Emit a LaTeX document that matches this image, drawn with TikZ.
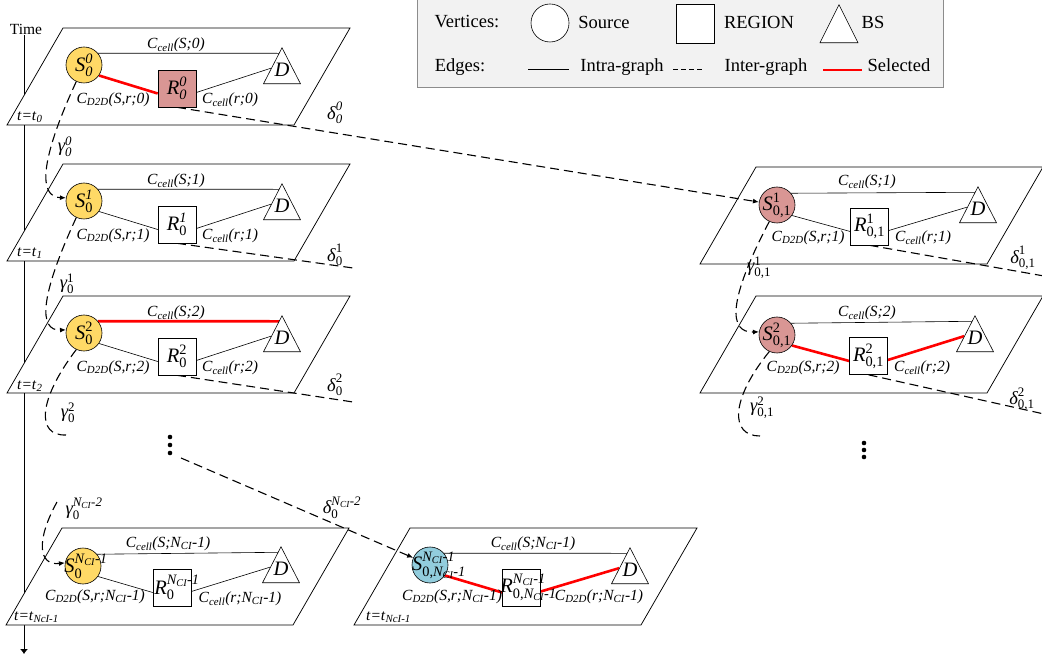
\documentclass[tikz,border=0pt]{standalone}
\usepackage{fontspec}
\setmainfont{Liberation Serif}
\usepackage{amsmath}
\usetikzlibrary{shapes.geometric,arrows.meta,calc}
\pgfdeclarelayer{bg}
\pgfdeclarelayer{edges}
\pgfsetlayers{bg,edges,main}
\definecolor{srcY}{RGB}{255,217,102}
\definecolor{rose}{RGB}{217,150,148}
\definecolor{skyb}{RGB}{146,205,221}
\definecolor{legfill}{RGB}{242,242,242}
\definecolor{legline}{RGB}{140,140,140}
\definecolor{selred}{RGB}{255,0,0}
\newcommand\Cc[1]{\textit{C}\textsubscript{\textit{cell}}\textit{(#1)}}
\newcommand\Cd[1]{\textit{C}\textsubscript{\textit{D2D}}\textit{(#1)}}
\newcommand\NCt{\textit{N}\textsubscript{\textit{CI}}}
\newcommand\NCm{\textit{N}_{\textit{CI}}}
\newcommand\fsz[1]{\fontsize{#1}{#1}\selectfont}
\newcommand\planeat[2]{\draw[plane] (#1,#2) -- ++(287,0) -- ++(-56,97) -- ++(-287,0) -- cycle;}
\tikzset{
 plane/.style={draw=black, fill=white, line width=0.75pt},
 src/.style={circle, draw=black, line width=0.6pt, minimum size=36pt, inner sep=0pt},
 reg/.style={rectangle, draw=black, line width=0.6pt, minimum width=38pt, minimum height=37pt, inner sep=0pt, fill=white},
 bs/.style={isosceles triangle, isosceles triangle stretches, shape border rotate=90, draw=black, line width=0.6pt, minimum width=37pt, minimum height=36pt, inner sep=0pt, anchor=apex, fill=white},
 nlab/.style={font=\fsz{20.5}, inner sep=0pt},
 elab/.style={font=\fsz{15.5}, inner sep=0pt},
 glab/.style={font=\fsz{18.5}, inner sep=0pt},
 leglab/.style={font=\fsz{18.5}, inner sep=0pt},
 edge/.style={line width=0.6pt},
 sel/.style={line width=2.6pt, draw=selred},
 inter/.style={line width=1.1pt, dash pattern=on 9pt off 5pt},
 arr/.style={-{Latex[length=6pt,width=5pt]}},
 timeax/.style={line width=0.8pt, -{Latex[length=5pt,width=8pt]}},
}
\begin{document}
\begin{tikzpicture}[x=1pt,y=-1pt]
\useasboundingbox (0,0) rectangle (1042,660);
% ---------- legend
\draw[draw=legline, fill=legfill, line width=0.8pt] (417,-1) rectangle (943,87);
\node[leglab] (lv) at (467,22) {Vertices:};
\node[src, minimum size=38pt, fill=white] (lc) at (550,23) {};
\node[leglab] (lsrc) at (604,22) {Source};
\node[reg, minimum width=38pt, minimum height=39pt] (lsq) at (695,23.5) {};
\node[leglab] (lreg) at (759,22) {REGION};
\node[bs, minimum width=38pt, minimum height=38pt] (ltr) at (839,4) {};
\node[leglab] (lbs) at (873,22) {BS};
\node[leglab] (le) at (460,67) {Edges:};
\coordinate (la1) at (528,69); \coordinate (la2) at (569,69);
\draw[edge] (la1) -- (la2);
\node[leglab] (lintra) at (622,67) {Intra-graph};
\coordinate (lb1) at (673,69); \coordinate (lb2) at (704,69);
\draw[line width=0.8pt, dash pattern=on 5pt off 3pt] (lb1) -- (lb2);
\node[leglab] (linter) at (766,67) {Inter-graph};
\coordinate (lc1) at (823,70); \coordinate (lc2) at (862,70);
\draw[sel] (lc1) -- (lc2);
\node[leglab] (lsel) at (899,65) {Selected};
% ---------- time axis and planes
\node[elab] (time) at (26,29) {Time};
\coordinate (ax0) at (24,35);
\coordinate (ax1) at (24,654);
\begin{pgfonlayer}{bg}
\draw[timeax] (ax0) -- (ax1);
\planeat{63}{28}
\planeat{63}{164}
\planeat{63}{296}
\planeat{62}{528}
\planeat{410}{528}
\planeat{756}{167}
\planeat{756}{296}
\end{pgfonlayer}
% ---------- plane 0
\node[src, fill=srcY, label={[nlab]center:$\textit{S}^{\textit{0}}_{\textit{0}}$}] (S0) at (84,65) {};
\node[reg, fill=rose, label={[nlab]center:$\textit{R}^{\textit{0}}_{\textit{0}}$}] (R0) at (177,88.5) {};
\node[bs] (D0) at (282,47) {};
\path (D0.apex) ++(0,23) node[nlab] (D0t) {\textit{D}};
\node[elab] (c0a) at (176,45) {\Cc{S;0}};
\node[elab] (c0b) at (113,100) {\Cd{S,r;0}};
\node[elab] (c0c) at (230,100) {\Cc{r;0}};
\node[elab, anchor=west] (t0) at (17,117) {\textit{t=t}\textsubscript{\textit{0}}};
\node[glab] (dl0) at (335,113) {$\textit{δ}^{\textit{0}}_{\textit{0}}$};
% ---------- plane 1
\node[src, fill=srcY, label={[nlab]center:$\textit{S}^{\textit{1}}_{\textup{0}}$}] (S1) at (84,201) {};
\node[reg, label={[nlab]center:$\textit{R}^{\textit{1}}_{\textup{0}}$}] (R1) at (177,224.5) {};
\node[bs] (D1) at (282,183) {};
\path (D1.apex) ++(0,23) node[nlab] (D1t) {\textit{D}};
\node[elab] (c1a) at (176,181) {\Cc{S;1}};
\node[elab] (c1b) at (113,236) {\Cd{S,r;1}};
\node[elab] (c1c) at (230,236) {\Cc{r;1}};
\node[elab, anchor=west] (t1) at (17,253) {\textit{t=t}\textsubscript{\textit{1}}};
\node[glab] (dl1) at (335,255) {$\textit{δ}^{\textup{1}}_{\textup{0}}$};
% ---------- plane 2
\node[src, fill=srcY, label={[nlab]center:$\textit{S}^{\textup{2}}_{\textup{0}}$}] (S2) at (84,333) {};
\node[reg, label={[nlab]center:$\textit{R}^{\textup{2}}_{\textup{0}}$}] (R2) at (177,356.5) {};
\node[bs] (D2) at (282,315) {};
\path (D2.apex) ++(0,23) node[nlab] (D2t) {\textit{D}};
\node[elab] (c2a) at (176,313) {\Cc{S;2}};
\node[elab] (c2b) at (113,368) {\Cd{S,r;2}};
\node[elab] (c2c) at (230,368) {\Cc{r;2}};
\node[elab, anchor=west] (t2) at (17,386) {\textit{t=t}\textsubscript{\textit{2}}};
\node[glab] (dl2) at (335,385) {$\textit{δ}^{\textup{2}}_{\textup{0}}$};
% ---------- plane 3 (bottom left)
\node[src, fill=srcY, label={[nlab,xshift=3pt]center:$\textit{S}^{\NCm\textit{-1}}_{\textup{0}}$}] (S3) at (83,566) {};
\node[reg, label={[nlab,xshift=5pt]center:$\textit{R}^{\NCm\textit{-1}}_{\textup{0}}$}] (R3) at (172,587.5) {};
\node[bs] (D3) at (281,546) {};
\path (D3.apex) ++(0,23) node[nlab] (D3t) {\textit{D}};
\node[elab] (c3a) at (168,544) {\Cc{S;\NCt-1}};
\node[elab] (c3b) at (95,597) {\Cd{S,r;\NCt-1}};
\node[elab] (c3c) at (240,599) {\Cc{r;\NCt-1}};
\node[elab, anchor=west] (t3) at (14,617) {\textit{t=t}\textsubscript{\textit{NcI-1}}};
% ---------- plane 4 (bottom middle)
\node[src, fill=skyb, label={[nlab,xshift=9pt]center:$\textit{S}^{\NCm\textit{-1}}_{\textup{0,}\NCm\textit{-1}}$}] (S4) at (430,565) {};
\node[reg, label={[nlab,xshift=7pt]center:$\textit{R}^{\NCm\textit{-1}}_{\textup{0,}\NCm\textit{-1}}$}] (R4) at (521.5,587.5) {};
\node[bs] (D4) at (630,547) {};
\path (D4.apex) ++(0,23) node[nlab] (D4t) {\textit{D}};
\node[elab] (c4a) at (533,544) {\Cc{S;\NCt-1}};
\node[elab] (c4b) at (452,597) {\Cd{S,r;\NCt-1}};
\node[elab] (c4c) at (599,597) {\Cd{r;\NCt-1}};
\node[elab, anchor=west] (t4) at (366,617) {\textit{t=t}\textsubscript{\textit{NcI-1}}};
% ---------- plane 5 (right 1)
\node[src, fill=rose, label={[nlab]center:$\textit{S}^{\textup{1}}_{\textup{0,1}}$}] (S5) at (777,205) {};
\node[reg, label={[nlab]center:$\textit{R}^{\textup{1}}_{\textup{0,1}}$}] (R5) at (869.5,226.5) {};
\node[bs] (D5) at (978,186) {};
\path (D5.apex) ++(0,23) node[nlab] (D5t) {\textit{D}};
\node[elab] (c5a) at (867,182) {\Cc{S;1}};
\node[elab] (c5b) at (808,238) {\Cd{S,r;1}};
\node[elab] (c5c) at (923,238) {\Cc{r;1}};
\node[glab] (dl5) at (1023,258) {$\textit{δ}^{\textup{1}}_{\textup{0,1}}$};
% ---------- plane 6 (right 2)
\node[src, fill=rose, label={[nlab]center:$\textit{S}^{\textup{2}}_{\textup{0,1}}$}] (S6) at (777,335) {};
\node[reg, label={[nlab]center:$\textit{R}^{\textup{2}}_{\textup{0,1}}$}] (R6) at (868.5,356) {};
\node[bs] (D6) at (975,315) {};
\path (D6.apex) ++(0,23) node[nlab] (D6t) {\textit{D}};
\node[elab] (c6a) at (867,313) {\Cc{S;2}};
\node[elab] (c6b) at (803,368) {\Cd{S,r;2}};
\node[elab] (c6c) at (922,368) {\Cc{r;2}};
\node[glab] (dl6) at (1022,399) {$\textit{δ}^{\textup{2}}_{\textup{0,1}}$};
% ---------- gamma labels
\node[glab] (g0) at (65,147) {$\textit{γ}^{\textit{0}}_{\textit{0}}$};
\node[glab] (g1) at (67,284) {$\textit{γ}^{\textup{1}}_{\textup{0}}$};
\node[glab] (g2) at (68,413) {$\textit{γ}^{\textup{2}}_{\textup{0}}$};
\node[glab] (g3) at (84,509) {$\textit{γ}^{\NCm\textit{-2}}_{\textup{0}}$};
\node[glab] (g5) at (759,268) {$\textit{γ}^{\textup{1}}_{\textup{0,1}}$};
\node[glab] (g6) at (762,408) {$\textit{γ}^{\textup{2}}_{\textup{0,1}}$};
\node[glab] (dl3) at (342,508) {$\textit{δ}^{\NCm\textit{-2}}_{\textup{0}}$};
% ---------- dots
\fill (170,437) circle[radius=2.3pt] (170,445) circle[radius=2.3pt] (170,453) circle[radius=2.3pt];
\fill (864,443) circle[radius=2.3pt] (864,450) circle[radius=2.3pt] (864,457) circle[radius=2.3pt];
% ---------- free ends
\coordinate (g2e) at (66,435);
\coordinate (g3s) at (57,502);
\coordinate (g6e) at (760,436);
\coordinate (d1e) at (353,268);
\coordinate (d2e) at (353,402);
\coordinate (d5e) at (1044,276);
\coordinate (d6e) at (1044,414);
\coordinate (dNs) at (181,458);
% ---------- edges
\begin{pgfonlayer}{edges}
% plane 0
\draw[edge] (S0.40) -- ($(D0.apex)!0.17!(D0.left corner)$);
\draw[sel] (S0.-35) -- ([yshift=-5pt]R0.west);
\draw[edge] ([yshift=-4pt]R0.east) -- ($(D0.apex)!0.57!(D0.left corner)$);
% plane 1
\draw[edge] (S1.40) -- ($(D1.apex)!0.17!(D1.left corner)$);
\draw[edge] (S1.-35) -- ([yshift=-5pt]R1.west);
\draw[edge] ([yshift=-4pt]R1.east) -- ($(D1.apex)!0.57!(D1.left corner)$);
% plane 2
\draw[sel] (S2.40) -- ($(D2.apex)!0.17!(D2.left corner)$);
\draw[edge] (S2.-35) -- ([yshift=-5pt]R2.west);
\draw[edge] ([yshift=-4pt]R2.east) -- ($(D2.apex)!0.57!(D2.left corner)$);
% plane 3
\draw[edge] (S3.40) -- ($(D3.apex)!0.17!(D3.left corner)$);
\draw[edge] (S3.-35) -- ([yshift=-5pt]R3.west);
\draw[edge] ([yshift=-4pt]R3.east) -- ($(D3.apex)!0.57!(D3.left corner)$);
% plane 4
\draw[edge] (S4.40) -- ($(D4.apex)!0.17!(D4.left corner)$);
\draw[sel] (S4.-35) -- ([yshift=-5pt]R4.west);
\draw[sel] ([yshift=-4pt]R4.east) -- ($(D4.apex)!0.57!(D4.left corner)$);
% plane 5
\draw[edge] (S5.40) -- ($(D5.apex)!0.17!(D5.left corner)$);
\draw[edge] (S5.-35) -- ([yshift=-5pt]R5.west);
\draw[edge] ([yshift=-4pt]R5.east) -- ($(D5.apex)!0.57!(D5.left corner)$);
% plane 6
\draw[edge] (S6.40) -- ($(D6.apex)!0.17!(D6.left corner)$);
\draw[sel] (S6.-35) -- ([yshift=-5pt]R6.west);
\draw[sel] ([yshift=-4pt]R6.east) -- ($(D6.apex)!0.57!(D6.left corner)$);
% inter-graph edges
\draw[inter,arr] (S0.245) .. controls (40,160) and (38,197) .. (S1.170);
\draw[inter,arr] (S1.245) .. controls (40,296) and (38,331) .. (S2.170);
\draw[inter] (S2.245) .. controls (38,400) and (36,436) .. (g2e);
\draw[inter,arr] (g3s) .. controls (36,540) and (38,566) .. (S3.170);
\draw[inter,arr] (S5.245) .. controls (728,300) and (728,333) .. (S6.170);
\draw[inter] (S6.245) .. controls (730,400) and (730,436) .. (g6e);
\draw[inter,arr] (R0.south) -- (S5);
\draw[inter] (R1.south) -- (d1e);
\draw[inter] (R2.south) -- (d2e);
\draw[inter] (R5.south) -- (d5e);
\draw[inter] (R6.south) -- (d6e);
\draw[inter,arr] (dNs) -- (S4);
\end{pgfonlayer}
\end{tikzpicture}
\end{document}
